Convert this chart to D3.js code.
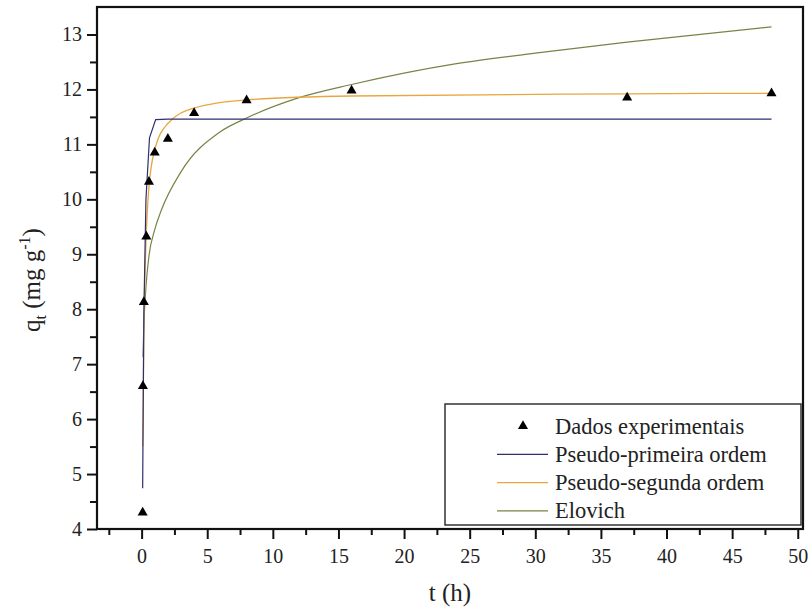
<!doctype html>
<html lang="pt">
<head>
<meta charset="utf-8">
<title>Cinética de adsorção</title>
<script src="https://cdn.jsdelivr.net/npm/d3@7"></script>
<style>
  body { margin: 0; background: #fff; }
  svg { display: block; }
  svg text { font-family: "Liberation Serif", Tinos, "Times New Roman", Times, "DejaVu Serif", "Noto Serif", serif !important; fill: #222; }
</style>
</head>
<body>
<svg></svg>
<script>
// experimental points
var tData = [0.08, 0.1, 0.17, 0.36, 0.56, 1, 2, 4, 8, 16, 37, 48];
var qData = [4.30, 6.60, 8.13, 9.32, 10.32, 10.85, 11.10, 11.57, 11.80, 11.98, 11.85, 11.93];

// fitted curves
var pfoT = [0.08, 0.17, 0.33, 0.6, 1.07, 2, 4, 8, 16, 37, 48];
var pfoQ = [4.74, 7.9, 10.0, 11.12, 11.45, 11.46, 11.46, 11.46, 11.46, 11.46, 11.46];

var psoT = [0.08, 0.17, 0.33, 0.55, 1, 2, 4, 8, 16, 37, 48];
var psoQ = [5.5, 7.6, 9.2, 10.2, 10.9, 11.38, 11.66, 11.81, 11.88, 11.92, 11.93];

var elovT = [0.1, 0.17, 0.33, 0.55, 1, 1.5, 3, 6, 8, 12, 16, 24, 30, 37, 48];
var elovQ = [7.13, 7.7, 8.4, 8.95, 9.45, 9.8, 10.5, 11.23, 11.48, 11.85, 12.09, 12.47, 12.66, 12.86, 13.14];

var xTicks = [0, 5, 10, 15, 20, 25, 30, 35, 40, 45, 50];
var yTicks = [4, 5, 6, 7, 8, 9, 10, 11, 12, 13];

var legendNames = ["Dados experimentais", "Pseudo-primeira ordem", "Pseudo-segunda ordem", "Elovich"];
var colors = { pfo: "#2e2f6e", pso: "#e9a640", elov: "#768445" };

var width = 808, height = 610;
var plotLeft = 97, plotRight = 803, plotTop = 7, plotBottom = 529;
var serif = '"Liberation Serif", Tinos, "Times New Roman", "DejaVu Serif", serif';

var svg = d3.select("svg").attr("width", width).attr("height", height);

var x = d3.scaleLinear().domain([-3.4, 50.4]).range([plotLeft, plotRight]);
var y = d3.scaleLinear().domain([4, 13.5]).range([plotBottom, plotTop]);

// minor ticks first
var xMinor = d3.range(-2.5, 50, 5);
var yMinor = d3.range(4.5, 13.5, 1);

svg.append("g")
    .attr("transform", "translate(0," + plotBottom + ")")
    .call(d3.axisBottom(x).tickValues(xMinor).tickSize(6).tickFormat(""))
    .call(function (g) { g.select(".domain").remove(); g.selectAll("line").attr("stroke-width", 2).attr("stroke", "#111"); });

svg.append("g")
    .attr("transform", "translate(" + plotLeft + ",0)")
    .call(d3.axisLeft(y).tickValues(yMinor).tickSize(7).tickFormat(""))
    .call(function (g) { g.select(".domain").remove(); g.selectAll("line").attr("stroke-width", 2).attr("stroke", "#111"); });

// major ticks
var xAxis = svg.append("g")
    .attr("transform", "translate(0," + plotBottom + ")")
    .call(d3.axisBottom(x).tickValues(xTicks).tickSize(10).tickPadding(10).tickFormat(d3.format("d")));
xAxis.attr("font-family", serif);
xAxis.select(".domain").remove();
xAxis.selectAll("line").attr("stroke-width", 2).attr("stroke", "#111");
xAxis.selectAll("text").attr("font-size", "20px").attr("fill", "#222");

var yAxis = svg.append("g")
    .attr("transform", "translate(" + plotLeft + ",0)")
    .call(d3.axisLeft(y).tickValues(yTicks).tickSize(10).tickPadding(5).tickFormat(d3.format("d")));
yAxis.attr("font-family", serif);
yAxis.select(".domain").remove();
yAxis.selectAll("line").attr("stroke-width", 2).attr("stroke", "#111");
yAxis.selectAll("text").attr("font-size", "20px").attr("fill", "#222");

// frame
svg.append("rect")
    .attr("x", plotLeft).attr("y", plotTop)
    .attr("width", plotRight - plotLeft).attr("height", plotBottom - plotTop)
    .attr("fill", "none").attr("stroke", "#111").attr("stroke-width", 2.2);

// curves
function pts(ts, qs) { return ts.map(function (t, i) { return [t, qs[i]]; }); }

var smooth = d3.line().x(function (d) { return x(d[0]); }).y(function (d) { return y(d[1]); }).curve(d3.curveMonotoneX);
var straight = d3.line().x(function (d) { return x(d[0]); }).y(function (d) { return y(d[1]); });

svg.append("path").datum(pts(elovT, elovQ))
    .attr("d", smooth).attr("fill", "none").attr("stroke", colors.elov).attr("stroke-width", 1.2);
svg.append("path").datum(pts(psoT, psoQ))
    .attr("d", smooth).attr("fill", "none").attr("stroke", colors.pso).attr("stroke-width", 1.3);
svg.append("path").datum(pts(pfoT, pfoQ))
    .attr("d", straight).attr("fill", "none").attr("stroke", colors.pfo).attr("stroke-width", 1.2);

// experimental triangles
var tri = d3.symbol().type(d3.symbolTriangle).size(44);
svg.selectAll(".pt")
    .data(pts(tData, qData))
    .enter()
    .append("path")
    .attr("class", "pt")
    .attr("d", tri)
    .attr("transform", function (d) { return "translate(" + x(d[0]) + "," + y(d[1]) + ")"; })
    .attr("fill", "#000");

// axis titles
svg.append("text")
    .attr("x", (plotLeft + plotRight) / 2).attr("y", 601)
    .attr("text-anchor", "middle").attr("font-size", "25px")
    .text("t (h)");

var ylab = svg.append("text")
    .attr("transform", "translate(40,280) rotate(-90)")
    .attr("text-anchor", "middle").attr("font-size", "25px");
ylab.append("tspan").text("q");
ylab.append("tspan").attr("font-size", "16px").attr("dy", 6).text("t");
ylab.append("tspan").attr("dy", -6).text(" (mg g");
ylab.append("tspan").attr("font-size", "16px").attr("dy", -10).text("-1");
ylab.append("tspan").attr("dy", 10).text(")");

// legend
var lg = svg.append("g");
lg.append("rect")
    .attr("x", 445).attr("y", 404).attr("width", 356).attr("height", 121)
    .attr("fill", "#fff").attr("stroke", "#333").attr("stroke-width", 1.5);

var keys = ["pt", "pfo", "pso", "elov"];
keys.forEach(function (k, i) {
    var cy = 426 + i * 28.3;
    if (k === "pt") {
        lg.append("path").attr("d", tri).attr("transform", "translate(523," + cy + ")").attr("fill", "#000");
    } else {
        lg.append("line").attr("x1", 497).attr("x2", 548).attr("y1", cy).attr("y2", cy)
            .attr("stroke", colors[k]).attr("stroke-width", 1.3);
    }
    lg.append("text").attr("x", 555).attr("y", cy + 7.5)
        .attr("font-size", "22.5px").text(legendNames[i]);
});
</script>
</body>
</html>
